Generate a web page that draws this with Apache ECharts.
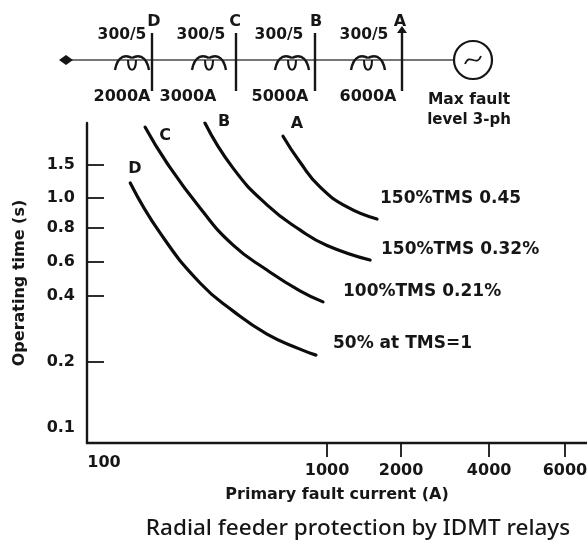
<!DOCTYPE html>
<html><head><meta charset="utf-8">
<style>html,body{margin:0;padding:0;background:#fff}#c{width:587px;height:545px;filter:blur(0.55px)}</style>
<script src="https://cdn.jsdelivr.net/npm/echarts@6/dist/echarts.min.js"></script>
</head><body><div id="c"></div>
<script>
// Tick labels
const xTicks = [100, 1000, 2000, 4000, 6000];
const yTicks = [0.2, 0.4, 0.6, 0.8, 1.0, 1.5];
const yLabels = [0.1, 0.2, 0.4, 0.6, 0.8, 1.0, 1.5];
// The drawing's scales are hand-spaced, not true log: anchors of value -> scale unit
const xAnchorValues = [100, 1000, 2000, 4000, 6000, 7000];
const xAnchorUnits  = [0, 1, 1.326, 1.714, 2.048, 2.145];
const yAnchorValues = [0.086, 0.1, 0.2, 0.4, 0.6, 0.8, 1.0, 1.5, 2.2];
const yAnchorUnits  = [-0.227, 0, 1, 2, 2.515, 3.03, 3.485, 3.985, 4.62];

// Series values: [primary fault current (A), operating time (s)]
const curveA = [[640,1.95],[760,1.54],[931,1.145],[1206,0.935],[1597,0.855]];
const curveB = [[290,2.2],[385,1.446],[544,0.95],[760,0.787],[1000,0.69],[1496,0.61]];
const curveC = [[158,2.12],[197,1.53],[276,0.928],[385,0.693],[544,0.545],[760,0.425],[960,0.376]];
const curveD = [[136,1.202],[184,0.767],[276,0.467],[385,0.342],[544,0.268],[760,0.229],[894,0.215]];

const curveLetters = ['A','B','C','D'];
const settingLabels = ['150%TMS 0.45','150%TMS 0.32%','100%TMS 0.21%','50% at TMS=1'];
const ctRatios = ['300/5','300/5','300/5','300/5'];
const faultLevels = ['2000A','3000A','5000A','6000A'];

function interp(v, xs, us){
  const l = Math.log(v);
  let i = 0;
  while(i < xs.length-2 && v > xs[i+1]) i++;
  const a = Math.log(xs[i]), b = Math.log(xs[i+1]);
  return us[i] + (l-a)/(b-a)*(us[i+1]-us[i]);
}
const xu = v => interp(v, xAnchorValues, xAnchorUnits);
const yu = v => interp(v, yAnchorValues, yAnchorUnits);
const pts = arr => arr.map(p => [xu(p[0]), yu(p[1])]);

const ink = '#161616';
const font = 'DejaVu Sans';
const txt = (x,y,text,size,extra) => ({type:'text',x,y,style:Object.assign({text,fill:ink,font:`600 ${size}px "${font}"`,textAlign:'center',textVerticalAlign:'middle'},extra||{}),silent:true});
const ln = (x1,y1,x2,y2,w,col) => ({type:'line',shape:{x1,y1,x2,y2},style:{stroke:col||ink,lineWidth:w||2},silent:true});
const bz = (x1,y1,cx1,cy1,cx2,cy2,x2,y2,w) => ({type:'bezierCurve',shape:{x1,y1,cpx1:cx1,cpy1:cy1,cpx2:cx2,cpy2:cy2,x2,y2},style:{stroke:ink,fill:null,lineWidth:w||2},silent:true});

const busX = [152,236,315,402];
const ctX = [132,209,292,368];
const g = [];
g.push(ln(66,60,454,60,2.2,'#777'));
g.push({type:'polygon',shape:{points:[[59,60],[66,55],[73,60],[66,65]]},style:{fill:ink},silent:true});
busX.forEach(x => { g.push(ln(x,33,x,91,2.4)); });
g.push({type:'polygon',shape:{points:[[402,26],[397,33],[407,33]]},style:{fill:ink},silent:true});
ctX.forEach(c => {
  g.push(bz(c-17,70,c-14,54,c-5,55,c,58,2.4));
  g.push(bz(c,58,c+5,55,c+14,54,c+17,70,2.4));
  g.push(bz(c-4,60,c-4,73,c+4,73,c+4,60,2));
});
g.push({type:'circle',shape:{cx:473,cy:60,r:19},style:{stroke:ink,fill:'#fff',lineWidth:2.2},silent:true});
g.push(bz(465,64,470,52,476,68,481,56,1.8));
['D','C','B','A'].forEach((t,i) => g.push(txt([154,235,316,400][i],22,t,16)));
ctRatios.forEach((t,i) => g.push(txt([122,201,279,364][i],35,t,15.5)));
faultLevels.forEach((t,i) => g.push(txt([122,188,280,368][i],97,t,16)));
g.push(txt(469,100,'Max fault',15.5));
g.push(txt(469,120,'level 3-ph',15));
curveLetters.forEach((t,i) => g.push(txt([297,224,165,135][i],[124,122,136,169][i],t,16)));
settingLabels.forEach((t,i) => g.push(txt([380,381,343,333][i],[199,250,292,344][i],t,17,{textAlign:'left'})));
g.push({type:'text',x:358,y:529,style:{text:'Radial feeder protection by IDMT relays',fill:ink,font:'500 22.5px "Noto Sans"',textAlign:'center',textVerticalAlign:'middle'},silent:true});

const series = [curveA,curveB,curveC,curveD].map((d,i) => ({
  name:curveLetters[i],type:'line',data:pts(d),smooth:0.5,showSymbol:false,silent:true,
  lineStyle:{color:'#0c0c0c',width:3.2,cap:'round'}
}));

const labelStyle = {color:ink,fontFamily:font,fontSize:16,fontWeight:600};
const chart = echarts.init(document.getElementById('c'),null,{renderer:'canvas'});
chart.setOption({
  animation:false,backgroundColor:'#fff',
  grid:{left:87,right:0,top:123,bottom:102,containLabel:false,outerBoundsMode:'none'},
  xAxis:{type:'value',min:xAnchorUnits[0]-0.057,max:xAnchorUnits[5],
    name:'Primary fault current (A)',nameLocation:'middle',nameGap:44,
    nameTextStyle:{color:ink,fontFamily:font,fontSize:16,fontWeight:600},
    splitLine:{show:false},
    axisLine:{onZero:false,lineStyle:{color:ink,width:2.4}},
    axisTick:{customValues:xTicks.slice(1).map(xu),length:14,lineStyle:{color:ink,width:1.8}},
    axisLabel:{customValues:xTicks.map(xu),margin:12,color:ink,fontFamily:font,fontSize:16,fontWeight:600,
      rich:{first:Object.assign({padding:[0,0,0,8]},labelStyle),rest:Object.assign({padding:[8,0,0,0]},labelStyle)},
      formatter:v=>{let k=xTicks.find(t=>Math.abs(xu(t)-v)<1e-6);if(k===undefined)return '';return k===100?'{first|'+k+'}':'{rest|'+k+'}';}}
  },
  yAxis:{type:'value',min:yAnchorUnits[0],max:yAnchorUnits[8],
    name:'Operating time (s)',nameLocation:'middle',nameGap:59,
    nameTextStyle:{color:ink,fontFamily:font,fontSize:16,fontWeight:600},
    splitLine:{show:false},
    axisLine:{onZero:false,lineStyle:{color:ink,width:2.4}},
    axisTick:{customValues:yTicks.map(yu),inside:true,length:17,lineStyle:{color:ink,width:1.8}},
    axisLabel:{customValues:yLabels.map(yu),margin:12,color:ink,fontFamily:font,fontSize:16,fontWeight:600,
      formatter:v=>{let k=yLabels.find(t=>Math.abs(yu(t)-v)<1e-6);return k===undefined?'':k.toFixed(1);}}
  },
  series,
  graphic:g
});
</script></body></html>
